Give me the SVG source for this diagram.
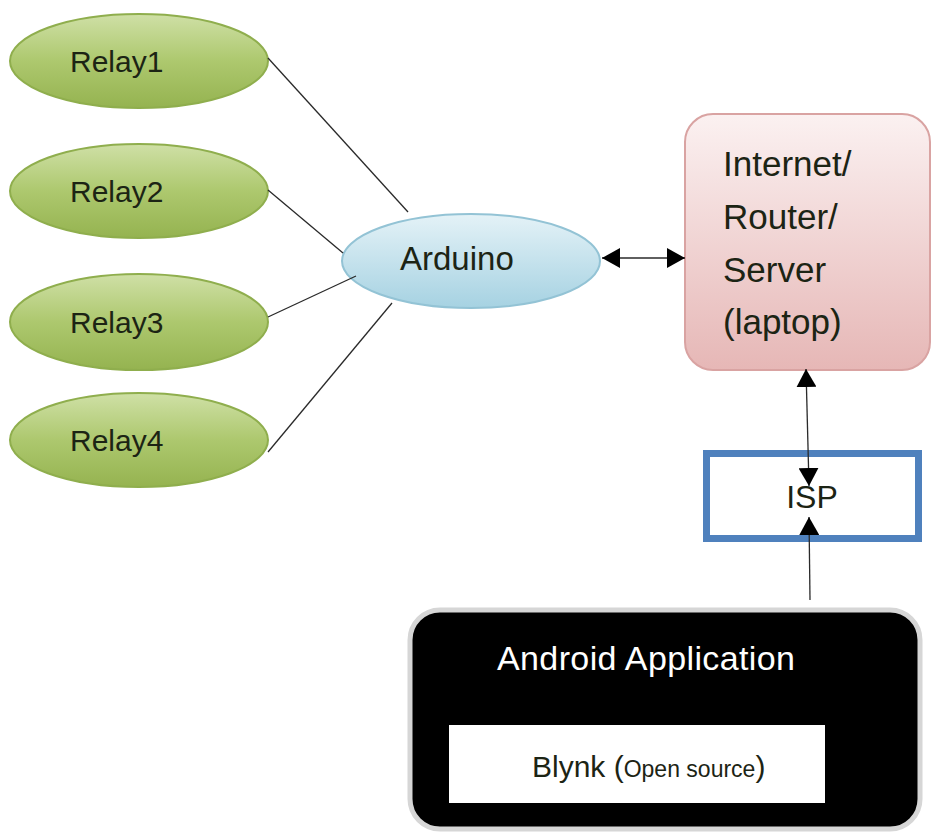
<svg xmlns="http://www.w3.org/2000/svg" width="932" height="839" viewBox="0 0 932 839">
<defs>
<linearGradient id="gGreen" x1="0" y1="0" x2="0" y2="1">
<stop offset="0" stop-color="#cfe0a6"/>
<stop offset="0.5" stop-color="#adc86e"/>
<stop offset="1" stop-color="#95b350"/>
</linearGradient>
<linearGradient id="gBlue" x1="0" y1="0" x2="0" y2="1">
<stop offset="0" stop-color="#e4f2f7"/>
<stop offset="1" stop-color="#a6d2e2"/>
</linearGradient>
<linearGradient id="gPink" x1="0" y1="0" x2="0" y2="1">
<stop offset="0" stop-color="#fbf1f1"/>
<stop offset="1" stop-color="#e6b7b6"/>
</linearGradient>
<marker id="ah" viewBox="0 0 18 20" refX="18" refY="10" markerWidth="18" markerHeight="20" markerUnits="userSpaceOnUse" orient="auto-start-reverse">
<path d="M0,0 L18,10 L0,20 Z" fill="#000"/>
</marker>
</defs>
<style>
.relay ellipse{fill:url(#gGreen);stroke:#8fae4d;stroke-width:2}
.lbl{font-family:"Liberation Sans",Arial,sans-serif;fill:#1c2414}
.conn line{stroke:#2a2a2a;stroke-width:1.3}
.arr{stroke:#000;stroke-width:2;marker-end:url(#ah)}
</style>
<rect width="932" height="839" fill="#fff"/>

<g id="relay1" class="relay"><ellipse cx="139" cy="61" rx="129" ry="47"/><text class="lbl" x="70" y="72" font-size="30">Relay1</text></g>
<g id="relay2" class="relay"><ellipse cx="139" cy="191" rx="129" ry="47"/><text class="lbl" x="70" y="202" font-size="30">Relay2</text></g>
<g id="relay3" class="relay"><ellipse cx="139" cy="322" rx="129" ry="48"/><text class="lbl" x="70" y="333" font-size="30">Relay3</text></g>
<g id="relay4" class="relay"><ellipse cx="139" cy="440" rx="129" ry="47"/><text class="lbl" x="70" y="451" font-size="30">Relay4</text></g>

<g id="arduino"><ellipse cx="471" cy="261" rx="129" ry="47" fill="url(#gBlue)" stroke="#93c3d5" stroke-width="2"/><text class="lbl" x="400" y="270" font-size="33">Arduino</text></g>

<g id="internet"><rect x="685" y="114" width="245" height="256" rx="28" fill="url(#gPink)" stroke="#d9a3a2" stroke-width="2"/>
<text class="lbl" font-size="35"><tspan x="723" y="176">Internet/</tspan><tspan x="723" y="229">Router/</tspan><tspan x="723" y="282">Server</tspan><tspan x="723" y="334">(laptop)</tspan></text></g>

<g id="isp"><rect x="706.5" y="453.5" width="212" height="85" fill="#fff" stroke="#4f81bd" stroke-width="7"/><text class="lbl" x="812" y="508" font-size="32" text-anchor="middle">ISP</text></g>

<g id="android"><rect x="410" y="610" width="510" height="219" rx="30" fill="#000" stroke="#d6d6d6" stroke-width="5"/>
<text x="497" y="670" font-size="34" fill="#fff" font-family="Liberation Sans, Arial, sans-serif" textLength="298">Android Application</text>
<rect x="449" y="725" width="376" height="78" fill="#fff"/>
<text class="lbl" x="532" y="777" font-size="30">Blynk (<tspan font-size="23">Open source</tspan>)</text></g>

<g id="connectors" class="conn">
<line x1="268" y1="58" x2="408" y2="212"/>
<line x1="268" y1="190" x2="343" y2="253"/>
<line x1="268" y1="317" x2="356" y2="276"/>
<line x1="268" y1="452" x2="392" y2="303"/>
<line x1="602" y1="258" x2="685" y2="258" stroke="#000" stroke-width="2" marker-start="url(#ah)" marker-end="url(#ah)"/>
<line x1="806" y1="369" x2="809" y2="486" stroke="#000" stroke-width="2" marker-start="url(#ah)" marker-end="url(#ah)"/>
<line x1="810" y1="600" x2="809" y2="517" class="arr"/>
</g>
</svg>
